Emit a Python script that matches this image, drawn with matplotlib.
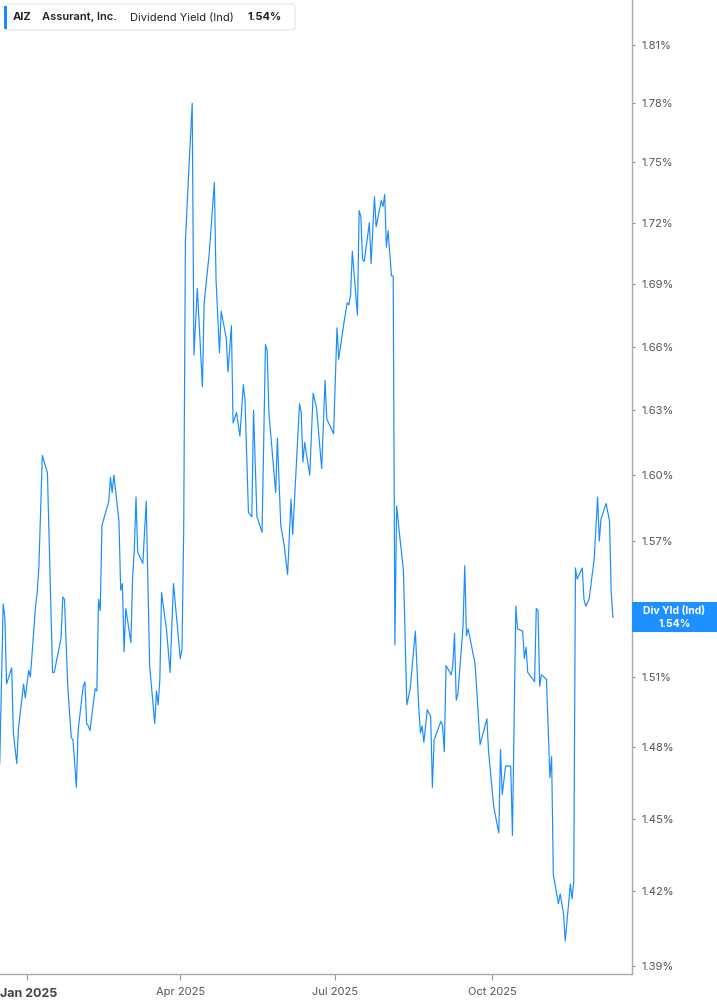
import matplotlib
matplotlib.use("Agg")
import matplotlib.pyplot as plt
import matplotlib.dates as mdates
from matplotlib.patches import Rectangle, FancyBboxPatch
from matplotlib.ticker import FixedLocator, NullLocator
import pandas as pd
import numpy as np

plt.rcParams['font.family'] = ['Inter', 'DejaVu Sans']

# ---------------- data ----------------
ticker = "AIZ"
company = "Assurant, Inc."
metric = "Dividend Yield (Ind)"
last_label = "1.54%"

# days offset from 2025-01-01 (calendar days)
day_offsets = [-16, -14, -13, -12, -9, -8, -6, -5, -2, -1, 1, 2, 5, 6, 7, 9, 12, 15, 16, 20,
               21, 22, 24, 26, 27, 29, 30, 33, 34, 35, 36, 37, 40, 41, 42, 43, 44, 48, 49, 50,
               51, 54, 55, 56, 57, 58, 61, 62, 63, 64, 65, 68, 70, 72, 75, 76, 77, 78, 79, 82,
               84, 86, 90, 91, 92, 93, 95, 97, 98, 100, 103, 104, 107, 110, 111, 113, 114, 117, 118, 120,
               121, 123, 125, 127, 128, 130, 132, 133, 135, 138, 140, 141, 142, 146, 147, 149, 151, 153, 155, 156,
               160, 161, 162, 163, 166, 168, 170, 173, 175, 176, 180, 182, 183, 186, 188, 189, 190, 191, 194, 195,
               196, 197, 198, 201, 202, 204, 205, 208, 209, 210, 211, 212, 214, 215, 216, 217, 219, 221, 223, 225,
               228, 230, 231, 232, 233, 235, 237, 238, 239, 243, 244, 245, 246, 249, 250, 251, 252, 253, 256, 257,
               258, 259, 263, 264, 266, 270, 271, 274, 277, 278, 279, 281, 284, 285, 287, 288, 291, 292, 293, 294,
               296, 298, 299, 300, 301, 302, 305, 307, 308, 309, 312, 313, 315, 316, 319, 320, 321, 322, 323, 326,
               327, 328, 330, 333, 335, 336, 337, 340, 342, 343, 344]

yield_pct = [1.473, 1.542, 1.536, 1.507, 1.514, 1.486, 1.473, 1.488, 1.507, 1.501, 1.513, 1.510, 1.541, 1.547, 1.559, 1.609, 1.601, 1.512, 1.512, 1.527,
             1.545, 1.544, 1.505, 1.484, 1.483, 1.463, 1.487, 1.506, 1.508, 1.490, 1.489, 1.487, 1.505, 1.504, 1.544, 1.539, 1.577, 1.588, 1.599, 1.592,
             1.600, 1.579, 1.548, 1.551, 1.521, 1.540, 1.525, 1.554, 1.566, 1.590, 1.565, 1.560, 1.588, 1.515, 1.490, 1.504, 1.498, 1.509, 1.547, 1.530,
             1.512, 1.551, 1.518, 1.522, 1.575, 1.711, 1.746, 1.780, 1.656, 1.688, 1.641, 1.681, 1.705, 1.740, 1.692, 1.657, 1.677, 1.664, 1.648, 1.670,
             1.624, 1.629, 1.618, 1.642, 1.635, 1.583, 1.581, 1.630, 1.581, 1.574, 1.661, 1.658, 1.629, 1.592, 1.617, 1.577, 1.568, 1.555, 1.589, 1.573,
             1.633, 1.629, 1.606, 1.615, 1.600, 1.638, 1.631, 1.603, 1.644, 1.626, 1.619, 1.669, 1.654, 1.671, 1.681, 1.680, 1.685, 1.706, 1.675, 1.726,
             1.723, 1.702, 1.701, 1.720, 1.700, 1.733, 1.718, 1.731, 1.728, 1.734, 1.708, 1.716, 1.694, 1.694, 1.524, 1.586, 1.571, 1.557, 1.498, 1.505,
             1.530, 1.497, 1.486, 1.489, 1.482, 1.496, 1.493, 1.463, 1.483, 1.491, 1.489, 1.478, 1.515, 1.511, 1.515, 1.529, 1.500, 1.503, 1.532, 1.559,
             1.528, 1.531, 1.516, 1.505, 1.481, 1.492, 1.478, 1.455, 1.444, 1.479, 1.460, 1.472, 1.472, 1.443, 1.541, 1.531, 1.530, 1.518, 1.523, 1.512,
             1.510, 1.508, 1.540, 1.539, 1.506, 1.511, 1.509, 1.467, 1.476, 1.427, 1.415, 1.419, 1.411, 1.400, 1.423, 1.417, 1.424, 1.558, 1.553, 1.558,
             1.544, 1.541, 1.544, 1.562, 1.590, 1.570, 1.580, 1.587, 1.579, 1.547, 1.536]

y_ticks = [1.39, 1.42, 1.45, 1.48, 1.51, 1.54, 1.57, 1.60, 1.63, 1.66, 1.69, 1.72, 1.75, 1.78, 1.81]
x_tick_dates = ["2025-01-01", "2025-04-01", "2025-07-01", "2025-10-01"]
x_tick_labels = ["Jan 2025", "Apr 2025", "Jul 2025", "Oct 2025"]

# ---------------- figure ----------------
W, H = 717, 1005
fig = plt.figure(figsize=(W / 100, H / 100), dpi=100)
ax_right = 632
ax_bottom = 974
ax = fig.add_axes([0, 1 - ax_bottom / H, ax_right / W, ax_bottom / H])

base = pd.Timestamp("2025-01-01")
dates = base + pd.to_timedelta(day_offsets, unit="D")
line_color = "#1a8cff"
ax.plot(dates, yield_pct, color=line_color, lw=0.85, solid_joinstyle="round")

ax.set_yscale("log")
ax.set_ylim(1.3868, 1.8334)
ax.set_xlim(base - pd.Timedelta(days=15.85), base + pd.Timedelta(days=355.2))

# y axis on right (the tick label at the last value sits under the value tag)
ax.yaxis.tick_right()
ax.yaxis.set_major_locator(FixedLocator(y_ticks))
ax.yaxis.set_minor_locator(NullLocator())
ax.set_yticklabels(["" if abs(v - round(yield_pct[-1], 2)) < 1e-9 else f"{v:.2f}%" for v in y_ticks])
ax.tick_params(axis="y", which="major", direction="out", length=2.5, width=0.8,
               color="#888888", pad=4, labelsize=8, labelcolor="#555555")

# x axis
tick_ts = [pd.Timestamp(d) for d in x_tick_dates]
ax.set_xticks(tick_ts)
ax.set_xticklabels([""] + x_tick_labels[1:])
ax.tick_params(axis="x", direction="out", length=4, width=0.8, color="#999999",
               pad=5, labelsize=8, labelcolor="#555555")
ax.annotate(x_tick_labels[0], xy=(0, 0), xycoords="axes fraction",
            xytext=(0, -10), textcoords="offset points", ha="left", va="top",
            fontsize=9, fontweight="bold", color="#444444")

for s in ["top", "left"]:
    ax.spines[s].set_visible(False)
for s in ["bottom", "right"]:
    ax.spines[s].set_color("#aaaaaa")
    ax.spines[s].set_linewidth(1.0)

# ---------------- legend box (top-left) ----------------
def fx(px):
    return px / W

def fy(py):
    return 1 - py / H

box = FancyBboxPatch((fx(5), fy(30)), fx(290), 26 / H,
                     boxstyle="round,pad=0,rounding_size=0.004",
                     transform=fig.transFigure, facecolor="white",
                     edgecolor="#e4e4e4", lw=0.8, zorder=5)
fig.patches.append(box)
fig.patches.append(Rectangle((fx(4), fy(29)), fx(3), 23 / H, transform=fig.transFigure,
                             facecolor=line_color, edgecolor="none", zorder=6))
ty = fy(17.5)
fig.text(fx(13), ty, ticker, fontsize=8, fontweight="bold", color="#222222", va="center", zorder=7)
fig.text(fx(42), ty, company, fontsize=8, fontweight="semibold", color="#222222", va="center", zorder=7)
fig.text(fx(130), ty, metric, fontsize=8, color="#222222", va="center", zorder=7)
fig.text(fx(247), ty, last_label, fontsize=8, fontweight="bold", color="#222222", va="center", zorder=7)

# ---------------- last value tag on right ----------------
fig.canvas.draw()
last_disp = ax.transData.transform((mdates.date2num(dates[-1]), yield_pct[-1]))
last_py = H - last_disp[1]
tag_h = 30
fig.patches.append(Rectangle((fx(ax_right), fy(last_py + tag_h / 2)), 1 - fx(ax_right), tag_h / H,
                             transform=fig.transFigure, facecolor="#1e90ff",
                             edgecolor="none", zorder=8))
fig.text(fx(674.5), fy(last_py - 6.5), "Div Yld (Ind)", fontsize=7.5, fontweight="bold",
         color="white", ha="center", va="center", zorder=9)
fig.text(fx(674.5), fy(last_py + 6.5), f"{yield_pct[-1]:.2f}%", fontsize=7.5, fontweight="bold",
         color="white", ha="center", va="center", zorder=9)

fig.savefig("out.png", dpi=100, facecolor="white")
